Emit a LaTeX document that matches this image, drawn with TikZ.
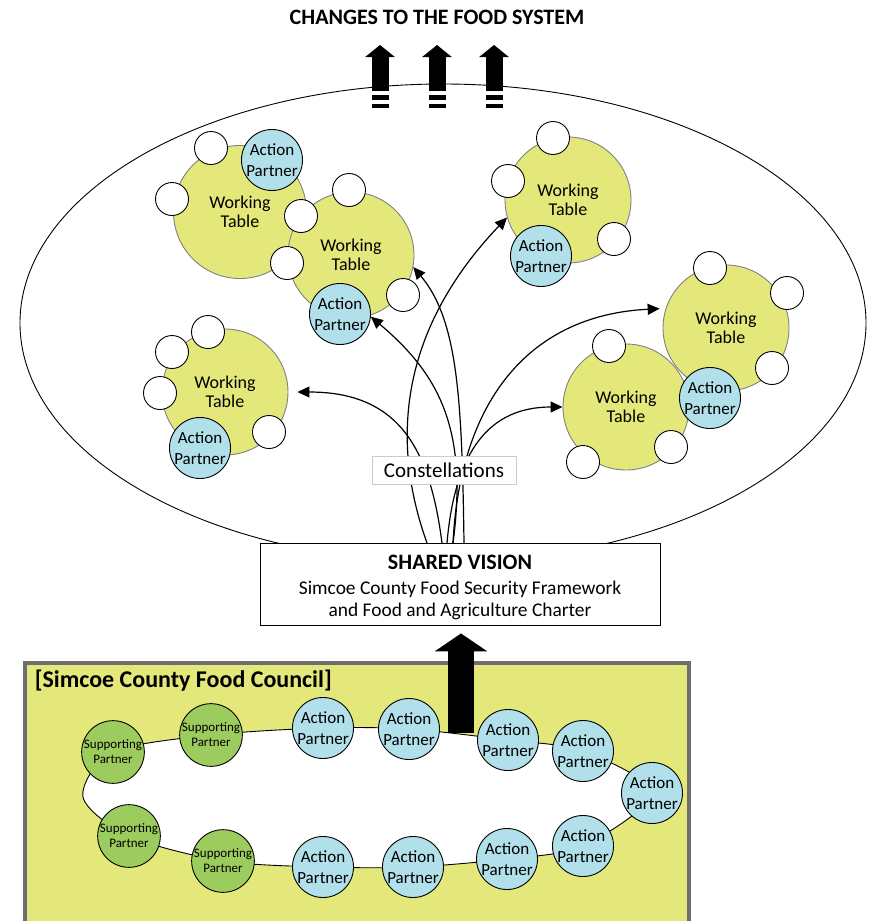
\documentclass[tikz,border=0pt]{standalone}
\usepackage{fontspec}
\setmainfont{Carlito}
\usepackage{tikz}
\usetikzlibrary{arrows.meta}
\definecolor{tablefill}{HTML}{E4E87A}
\definecolor{partnerblue}{HTML}{B1DFEA}
\definecolor{supportgreen}{HTML}{9CCC5E}
\definecolor{rimgray}{HTML}{6E6E6E}

\begin{document}
\begin{tikzpicture}[x=1pt,y=1pt,line width=0.9pt,
    worktable/.style={circle,draw=gray,fill=tablefill,minimum size=126pt,inner sep=0pt,align=center,font=\fontsize{18}{19.5}\selectfont},
    actionp/.style={circle,draw,fill=partnerblue,minimum size=61pt,inner sep=0pt,align=center,font=\fontsize{17}{21}\selectfont},
    supportp/.style={circle,draw,fill=supportgreen,minimum size=61pt,inner sep=0pt,align=center,font=\fontsize{13}{15}\selectfont},
    member/.style={circle,draw,fill=white,minimum size=33pt,inner sep=0pt},
    flow/.style={-{Triangle[length=12pt,width=11pt]},line width=1.2pt},
    uparrow/.style={line width=17pt,dash pattern=on 4pt off 4pt on 5pt off 4pt on 200pt,-{Triangle[width=29pt,length=12pt]}}]
    \useasboundingbox (0,0) rectangle (871,-921);

    % the field of the constellations
    \draw (443,-323) ellipse [x radius=423pt,y radius=239pt];
    \node[font=\bfseries\fontsize{22}{24}\selectfont] (changes) at (437,-17) {CHANGES TO THE FOOD SYSTEM};
    \coordinate (t1) at (380,-108);
    \coordinate (t2) at (437,-108);
    \coordinate (t3) at (494,-108);
    \coordinate (h1) at (380,-45);
    \coordinate (h2) at (437,-45);
    \coordinate (h3) at (494,-45);
    \draw[uparrow] (t1) -- (h1);
    \draw[uparrow] (t2) -- (h2);
    \draw[uparrow] (t3) -- (h3);

    % working tables
    \node[worktable,minimum size=133pt] (wt1) at (240,-212) {Working\\Table};
    \node[worktable] (wt2) at (351,-255) {Working\\Table};
    \node[worktable] (wt3) at (568,-200) {Working\\Table};
    \node[worktable] (wt4) at (726,-328) {Working\\Table};
    \node[worktable] (wt5) at (626,-407) {Working\\Table};
    \node[worktable] (wt6) at (225,-392) {Working\\Table};
    \node[actionp] (ap1) at (272,-160) {Action\\Partner};
    \node[actionp] (ap2) at (340,-314) {Action\\Partner};
    \node[actionp] (ap3) at (541,-256) {Action\\Partner};
    \node[actionp] (ap4) at (710,-398) {Action\\Partner};
    \node[actionp] (ap6) at (200,-448) {Action\\Partner};
    \node[member] (m1a) at (211,-148) {};
    \node[member] (m1b) at (172,-199) {};
    \node[member] (m2a) at (349,-190) {};
    \node[member] (m2b) at (301,-216) {};
    \node[member] (m2c) at (287,-263) {};
    \node[member] (m2d) at (403,-295) {};
    \node[member] (m3a) at (553,-138) {};
    \node[member] (m3b) at (508,-181) {};
    \node[member] (m3c) at (614,-239) {};
    \node[member] (m4a) at (710,-268) {};
    \node[member] (m4b) at (787,-293) {};
    \node[member] (m4c) at (772,-368) {};
    \node[member] (m5a) at (609,-346) {};
    \node[member] (m5b) at (671,-447) {};
    \node[member] (m5c) at (583,-462) {};
    \node[member] (m6a) at (208,-332) {};
    \node[member] (m6b) at (172,-352) {};
    \node[member] (m6c) at (160,-393) {};
    \node[member] (m6d) at (269,-432) {};

    % constellations growing out of the vision
    \coordinate (s1) at (427,-543);
    \coordinate (s2) at (442,-543);
    \coordinate (s3) at (453,-543);
    \coordinate (s4) at (464,-543);
    \coordinate (s5) at (447,-543);
    \draw[flow] (s1) .. controls (390,-440) and (400,-330) .. (wt3.196);
    \draw[flow,shorten >=9pt] (s2) .. controls (430,-450) and (400,-392) .. (wt6.0);
    \draw[flow] (s3) .. controls (468,-430) and (440,-375) .. (ap2.-5);
    \draw[flow] (s4) .. controls (462,-400) and (458,-320) .. (wt2.-11);
    \draw[flow,shorten >=6pt] (s3) .. controls (460,-400) and (530,-315) .. (wt4.162);
    \draw[flow] (s5) .. controls (455,-450) and (490,-407) .. (wt5.180);
    \node[draw=gray!40,fill=white,minimum width=144pt,minimum height=28pt,inner sep=0pt,font=\fontsize{21}{21}\selectfont] (const) at (444,-470) {Constellations};
    \node[draw,fill=white,minimum width=400pt,minimum height=82pt,inner sep=0pt,align=center,font=\fontsize{19.4}{22}\selectfont] (vision) at (460,-584)
        {{\bfseries\fontsize{22}{25}\selectfont\rule{0pt}{22pt}SHARED VISION}\\[3pt]Simcoe County Food Security Framework\\and Food and Agriculture Charter};

    % the food council
    \draw[rimgray,line width=4pt,fill=tablefill] (25,-663) rectangle (689,-940);
    \node[anchor=west,font=\bfseries\fontsize{24}{26}\selectfont] (council) at (31,-681) {[Simcoe County Food Council]};
    \coordinate (r1) at (113,-752);
    \coordinate (r2) at (211,-735);
    \coordinate (r3) at (323,-728);
    \coordinate (r4) at (409,-729);
    \coordinate (r5) at (508,-740);
    \coordinate (r6) at (583,-751);
    \coordinate (r7) at (652,-793);
    \coordinate (r8) at (583,-846);
    \coordinate (r9) at (507,-859);
    \coordinate (r10) at (413,-867);
    \coordinate (r11) at (323,-867);
    \coordinate (r12) at (223,-861);
    \coordinate (r13) at (129,-836);
    \coordinate (bend) at (83,-797);
    \draw[fill=white] plot[smooth cycle] coordinates {(r1) (r2) (r3) (r4) (r5) (r6) (r7) (r8) (r9) (r10) (r11) (r12) (r13) (bend)};
    \node[supportp] (sp1) at (r1) {Supporting\\Partner};
    \node[supportp] (sp2) at (r2) {Supporting\\Partner};
    \node[actionp] (cp3) at (r3) {Action\\Partner};
    \node[actionp] (cp4) at (r4) {Action\\Partner};
    \node[actionp] (cp5) at (r5) {Action\\Partner};
    \node[actionp] (cp6) at (r6) {Action\\Partner};
    \node[actionp] (cp7) at (r7) {Action\\Partner};
    \node[actionp] (cp8) at (r8) {Action\\Partner};
    \node[actionp] (cp9) at (r9) {Action\\Partner};
    \node[actionp] (cp10) at (r10) {Action\\Partner};
    \node[actionp] (cp11) at (r11) {Action\\Partner};
    \node[supportp] (sp12) at (r12) {Supporting\\Partner};
    \node[supportp] (sp13) at (r13) {Supporting\\Partner};
    \coordinate (lift) at (461,-733);
    \draw[line width=26pt,-{Triangle[width=52pt,length=18pt]},shorten >=8pt] (lift) -- (lift |- vision.south);
\end{tikzpicture}
\end{document}
